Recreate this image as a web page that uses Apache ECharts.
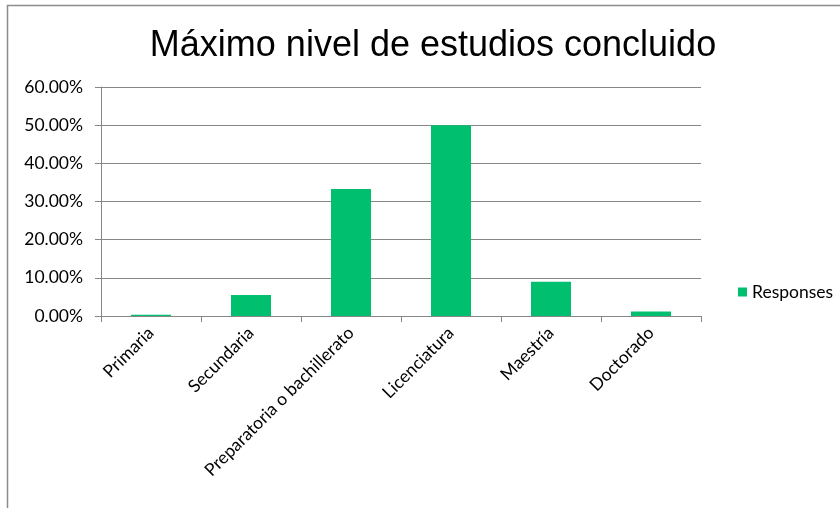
<!DOCTYPE html>
<html><head><meta charset="utf-8">
<script src="https://cdn.jsdelivr.net/npm/echarts@6/dist/echarts.min.js"></script>
<style>html,body{margin:0;padding:0;background:#fff}#c{width:840px;height:508px}</style>
</head><body><div id="c"></div>
<script>
const categories = ["Primaria","Secundaria","Preparatoria o bachillerato","Licenciatura","Maestría","Doctorado"];
const responses = [0.35, 5.5, 33.3, 50.0, 9.0, 1.2];
const seriesName = "Responses";
const titleText = "Máximo nivel de estudios concluido";

const chart = echarts.init(document.getElementById('c'), null, {renderer:'canvas'});
chart.setOption({
  animation:false,
  backgroundColor:'#fff',
  graphic:[{type:'rect',shape:{x:7.5,y:5.5,width:900,height:600},style:{fill:'none',stroke:'#8c8c8c',lineWidth:1.5},silent:true}],
  title:{text:titleText,left:428,top:23,textAlign:'center',textStyle:{fontFamily:'Liberation Sans',fontSize:36,fontWeight:'normal',color:'#000'}},
  legend:{data:[seriesName],left:733,top:278,icon:'rect',itemWidth:9,itemHeight:9,itemGap:8,
    textStyle:{fontFamily:'Lato',fontSize:17.5,color:'#000'}},
  grid:{left:101,right:139,top:87,bottom:192,containLabel:false},
  xAxis:{type:'category',data:categories,
    axisLine:{lineStyle:{color:'#868686',width:1}},
    axisTick:{show:true,length:6,lineStyle:{color:'#868686'}},
    axisLabel:{rotate:45,interval:0,fontFamily:'Lato',fontSize:17.5,color:'#000',margin:14}},
  yAxis:{type:'value',min:0,max:60,interval:10,
    axisLine:{show:true,lineStyle:{color:'#868686'}},
    axisTick:{show:true,length:6,lineStyle:{color:'#868686'}},
    splitLine:{lineStyle:{color:'#868686',width:1}},
    axisLabel:{formatter:v=>v.toFixed(2)+'%',fontFamily:'Lato',fontSize:17.5,color:'#000',margin:18}},
  series:[{name:seriesName,type:'bar',data:responses,barWidth:40,itemStyle:{color:'#00BF6F'}}]
});
</script></body></html>
